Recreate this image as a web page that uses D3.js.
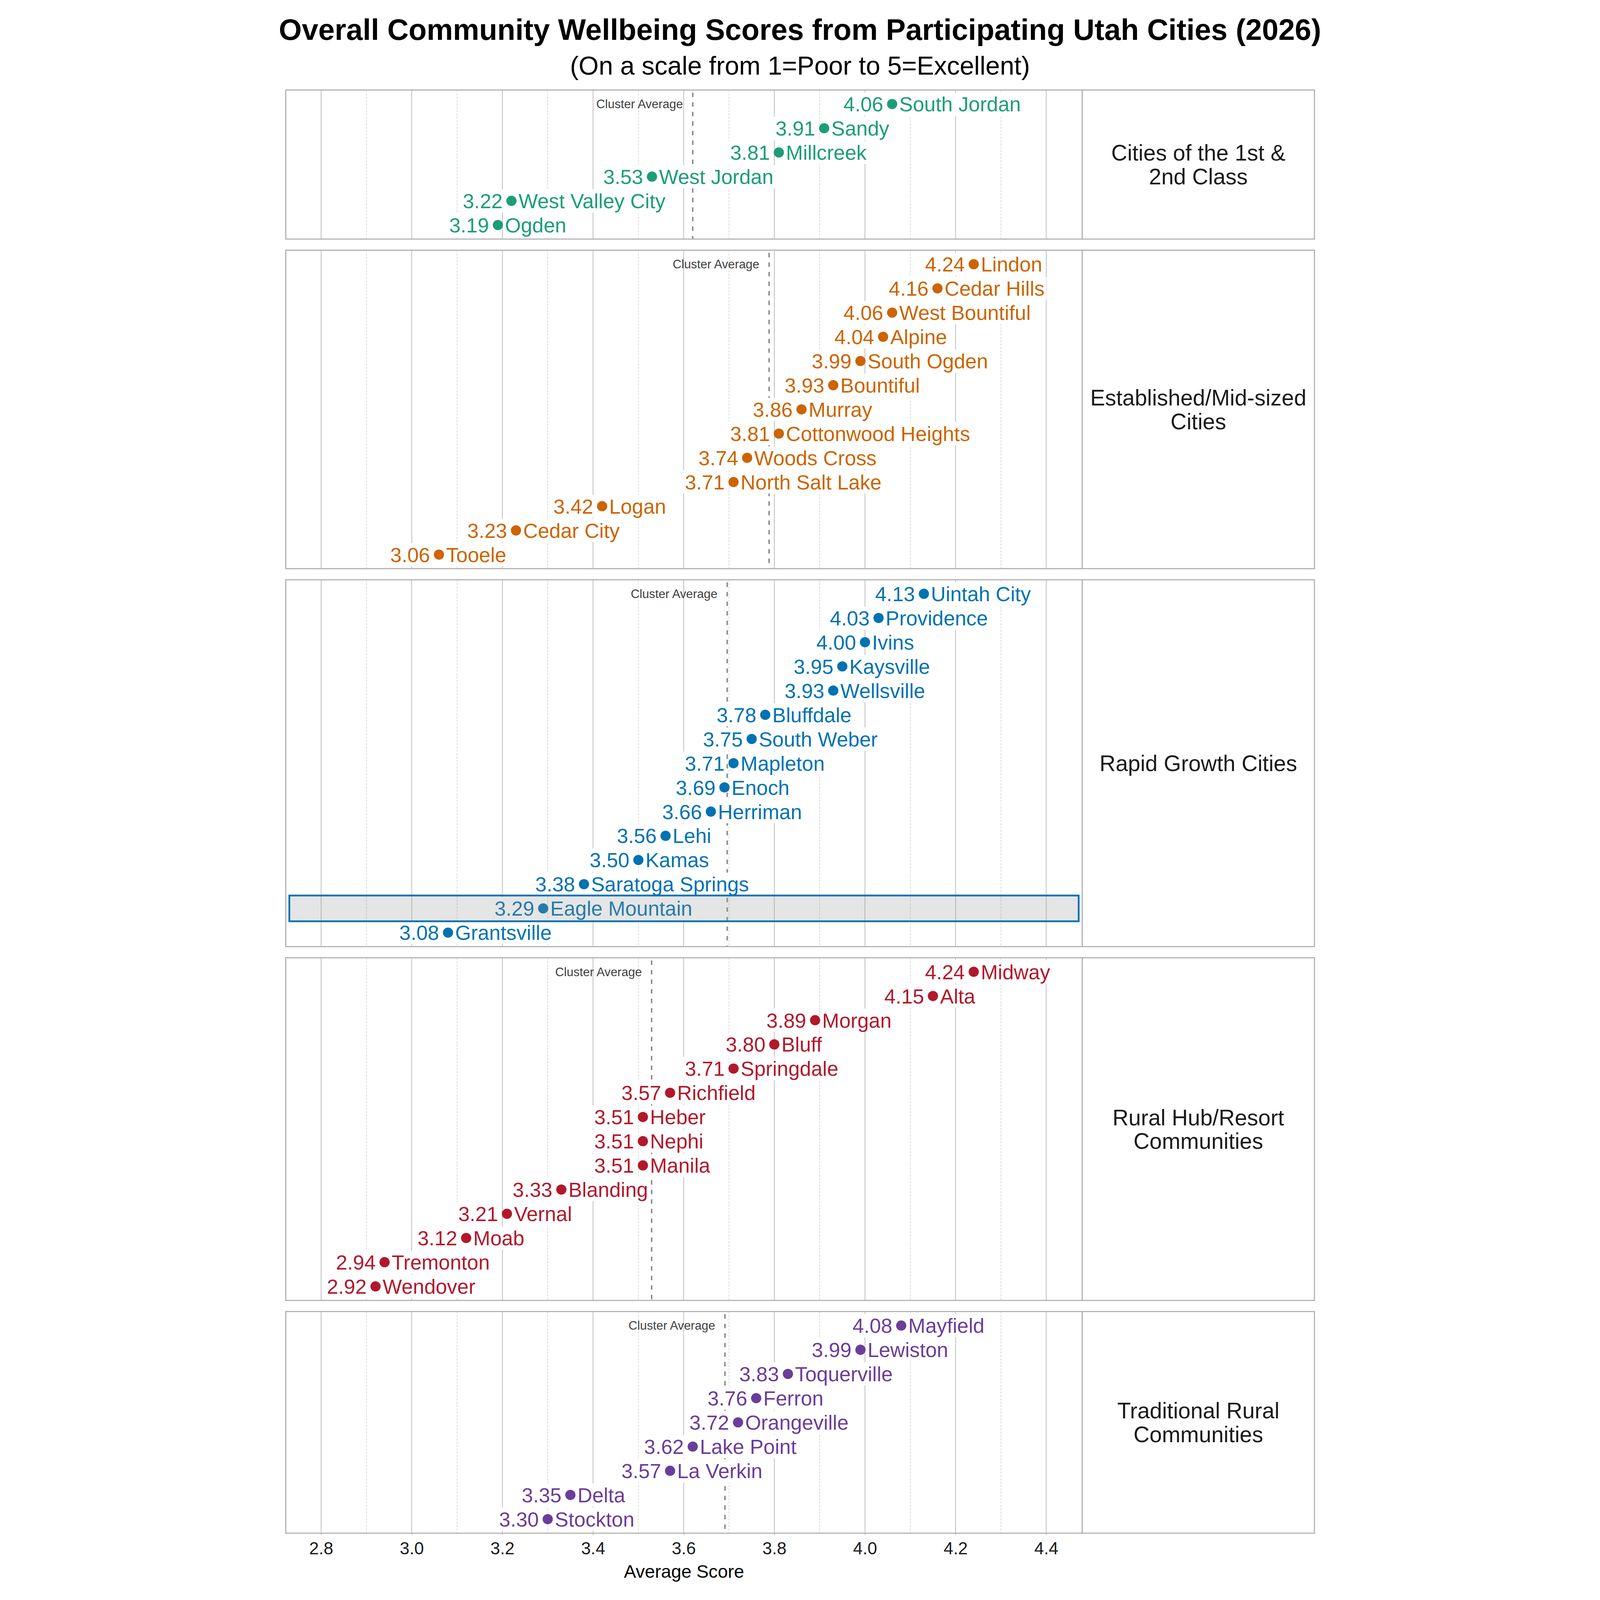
<!DOCTYPE html>
<html>
<head>
<meta charset="utf-8">
<script src="https://cdn.jsdelivr.net/npm/d3@7"></script>
<style>
  html, body { margin: 0; padding: 0; background: #fff; overflow: hidden; }
  svg { display: block; width: 100vw; height: 100vh; font-family: "Liberation Sans", Arial, sans-serif; }
</style>
</head>
<body>
<main></main>
<script>
// Clusters (facet rows, top to bottom)
const clusterNames = [
    "Cities of the 1st & 2nd Class",
    "Established/Mid-sized Cities",
    "Rapid Growth Cities",
    "Rural Hub/Resort Communities",
    "Traditional Rural Communities"
];

// Cities and scores per cluster
const firstClassCities = ["South Jordan", "Sandy", "Millcreek", "West Jordan", "West Valley City", "Ogden"];
const firstClassScores = [4.06, 3.91, 3.81, 3.53, 3.22, 3.19];

const establishedCities = ["Lindon", "Cedar Hills", "West Bountiful", "Alpine", "South Ogden", "Bountiful", "Murray",
    "Cottonwood Heights", "Woods Cross", "North Salt Lake", "Logan", "Cedar City", "Tooele"];
const establishedScores = [4.24, 4.16, 4.06, 4.04, 3.99, 3.93, 3.86, 3.81, 3.74, 3.71, 3.42, 3.23, 3.06];

const rapidGrowthCities = ["Uintah City", "Providence", "Ivins", "Kaysville", "Wellsville", "Bluffdale", "South Weber",
    "Mapleton", "Enoch", "Herriman", "Lehi", "Kamas", "Saratoga Springs", "Eagle Mountain", "Grantsville"];
const rapidGrowthScores = [4.13, 4.03, 4.00, 3.95, 3.93, 3.78, 3.75, 3.71, 3.69, 3.66, 3.56, 3.50, 3.38, 3.29, 3.08];

const ruralHubCities = ["Midway", "Alta", "Morgan", "Bluff", "Springdale", "Richfield", "Heber", "Nephi", "Manila",
    "Blanding", "Vernal", "Moab", "Tremonton", "Wendover"];
const ruralHubScores = [4.24, 4.15, 3.89, 3.80, 3.71, 3.57, 3.51, 3.51, 3.51, 3.33, 3.21, 3.12, 2.94, 2.92];

const traditionalCities = ["Mayfield", "Lewiston", "Toquerville", "Ferron", "Orangeville", "Lake Point", "La Verkin",
    "Delta", "Stockton"];
const traditionalScores = [4.08, 3.99, 3.83, 3.76, 3.72, 3.62, 3.57, 3.35, 3.30];

// Tick labels on the x axis
const majorTicks = [2.8, 3.0, 3.2, 3.4, 3.6, 3.8, 4.0, 4.2, 4.4];
const minorTicks = [2.9, 3.1, 3.3, 3.5, 3.7, 3.9, 4.1, 4.3];

const highlightCity = "Eagle Mountain";
const clusterColors = ["#1b9e77", "#cc6400", "#0072b2", "#b2182b", "#6a3d9a"];

const clusterCities = [firstClassCities, establishedCities, rapidGrowthCities, ruralHubCities, traditionalCities];
const clusterScores = [firstClassScores, establishedScores, rapidGrowthScores, ruralHubScores, traditionalScores];

// Layout (drawing units, scaled to the window by the viewBox)
const svgWidth = 4800, svgHeight = 7200;
const plotLeft = 86, plotRight = 3670, stripRight = 4715;
const firstTop = 405, panelGap = 50, rowStep = 108.9, rowPad = 0.58;
const gridColor = "#b4b4b4", borderColor = "#b0b0b0";

const svg = d3.select('main').append('svg')
    .attr('viewBox', `0 0 ${svgWidth} ${svgHeight}`)
    .attr('preserveAspectRatio', 'xMidYMid meet');

svg.append('rect').attr('width', svgWidth).attr('height', svgHeight).attr('fill', '#fff');

const x = d3.scaleLinear()
    .domain([2.722, 4.4794])
    .range([plotLeft, plotRight]);

// wrap strip labels roughly like textwrap
function wrapWords(text, maxChars) {
    const lines = [];
    let line = "";
    text.split(" ").forEach(w => {
        const next = line ? line + " " + w : w;
        if (next.length > maxChars && line) { lines.push(line); line = w; }
        else line = next;
    });
    if (line) lines.push(line);
    return lines;
}

// Title
svg.append('text')
    .attr('x', svgWidth / 2).attr('y', 180)
    .attr('text-anchor', 'middle')
    .attr('font-size', 133).attr('font-weight', 'bold')
    .attr('fill', '#000')
    .text('Overall Community Wellbeing Scores from Participating Utah Cities (2026)');

svg.append('text')
    .attr('x', svgWidth / 2).attr('y', 335)
    .attr('text-anchor', 'middle')
    .attr('font-size', 116)
    .attr('fill', '#000')
    .text('(On a scale from 1=Poor to 5=Excellent)');

let panelTop = firstTop;

clusterNames.forEach((name, i) => {
    const cities = clusterCities[i];
    const scores = clusterScores[i];
    const color = clusterColors[i];
    const data = cities.map((c, j) => ({ city: c, score: scores[j] }));
    const h = (cities.length - 1 + 2 * rowPad) * rowStep;
    const bottom = panelTop + h;

    const y = d3.scalePoint()
        .domain(cities)
        .range([panelTop, bottom])
        .padding(rowPad);

    const panel = svg.append('g');

    panel.append('rect')
        .attr('x', plotLeft).attr('y', panelTop)
        .attr('width', plotRight - plotLeft).attr('height', h)
        .attr('fill', '#fff');

    // minor grid
    panel.selectAll('.minor')
        .data(minorTicks)
        .enter()
        .append('line')
        .attr('x1', d => x(d)).attr('x2', d => x(d))
        .attr('y1', panelTop).attr('y2', bottom)
        .attr('stroke', '#c4c4c4')
        .attr('stroke-width', 2)
        .attr('stroke-dasharray', '10,5');

    // major grid
    panel.selectAll('.major')
        .data(majorTicks)
        .enter()
        .append('line')
        .attr('x1', d => x(d)).attr('x2', d => x(d))
        .attr('y1', panelTop).attr('y2', bottom)
        .attr('stroke', gridColor)
        .attr('stroke-width', 3);

    // cluster average
    const avg = d3.mean(scores);
    panel.append('line')
        .attr('x1', x(avg)).attr('x2', x(avg))
        .attr('y1', panelTop + 12).attr('y2', bottom)
        .attr('stroke', '#808080')
        .attr('stroke-width', 6)
        .attr('stroke-dasharray', '20,23');

    panel.append('text')
        .attr('x', x(avg) - 44)
        .attr('y', y(cities[0]))
        .attr('dy', '0.35em')
        .attr('text-anchor', 'end')
        .attr('font-size', 55)
        .attr('fill', '#404040')
        .text('Cluster Average');

    // rows
    const rows = panel.selectAll('.row')
        .data(data)
        .enter()
        .append('g');

    rows.append('text')
        .attr('class', 'val')
        .attr('x', d => x(d.score) - 40)
        .attr('y', d => y(d.city))
        .attr('dy', '0.36em')
        .attr('text-anchor', 'end')
        .attr('font-size', 92)
        .attr('fill', color)
        .text(d => d.score.toFixed(2));

    rows.append('text')
        .attr('class', 'name')
        .attr('x', d => x(d.score) + 32)
        .attr('y', d => y(d.city))
        .attr('dy', '0.36em')
        .attr('font-size', 92)
        .attr('fill', color)
        .text(d => d.city);

    // white boxes behind labels
    rows.each(function (d) {
        const g = d3.select(this);
        g.selectAll('text').each(function () {
            const b = this.getBBox();
            g.insert('rect', ':first-child')
                .attr('x', b.x - 8).attr('y', y(d.city) - 52)
                .attr('width', b.width + 16).attr('height', 104)
                .attr('fill', '#fff');
        });
    });

    rows.append('circle')
        .attr('cx', d => x(d.score))
        .attr('cy', d => y(d.city))
        .attr('r', 23)
        .attr('fill', color);

    // highlighted city
    data.filter(d => d.city === highlightCity).forEach(d => {
        panel.append('rect')
            .attr('x', plotLeft + 16).attr('y', y(d.city) - 58)
            .attr('width', plotRight - plotLeft - 32).attr('height', 116)
            .attr('fill', '#999')
            .attr('fill-opacity', 0.25)
            .attr('stroke', '#0072b2')
            .attr('stroke-width', 8);
    });

    // panel border
    panel.append('rect')
        .attr('x', plotLeft).attr('y', panelTop)
        .attr('width', plotRight - plotLeft).attr('height', h)
        .attr('fill', 'none')
        .attr('stroke', borderColor)
        .attr('stroke-width', 5);

    // strip
    panel.append('rect')
        .attr('x', plotRight).attr('y', panelTop)
        .attr('width', stripRight - plotRight).attr('height', h)
        .attr('fill', '#fff')
        .attr('stroke', borderColor)
        .attr('stroke-width', 5);

    const lines = wrapWords(name, 22);
    const strip = panel.append('text')
        .attr('y', panelTop + h / 2 - (lines.length - 1) * 107 / 2)
        .attr('text-anchor', 'middle')
        .attr('font-size', 100)
        .attr('fill', '#1a1a1a');
    lines.forEach((l, k) => {
        strip.append('tspan')
            .attr('x', (plotRight + stripRight) / 2)
            .attr('dy', k === 0 ? '0.36em' : 107)
            .text(l);
    });

    panelTop = bottom + panelGap;
});

// Axis
const axisY = panelTop - panelGap;
const axis = svg.append('g')
    .attr('transform', `translate(0,${axisY})`)
    .call(d3.axisBottom(x).tickValues(majorTicks).tickFormat(d3.format('.1f')).tickSize(8).tickPadding(32));
axis.select('.domain').remove();
axis.selectAll('line').attr('stroke', borderColor).attr('stroke-width', 3);
axis.selectAll('text').attr('font-size', 78).attr('fill', '#1a1a1a')
    .attr('font-family', '"Liberation Sans", Arial, sans-serif');

svg.append('text')
    .attr('x', (plotLeft + plotRight) / 2)
    .attr('y', 7099)
    .attr('text-anchor', 'middle')
    .attr('font-size', 82)
    .attr('fill', '#000')
    .text('Average Score');
</script>
</body>
</html>
